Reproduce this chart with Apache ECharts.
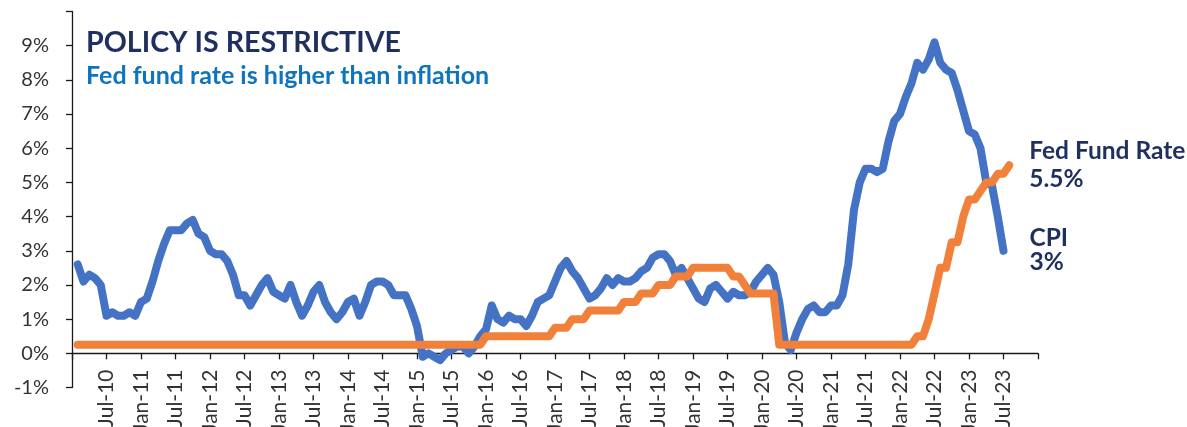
<!DOCTYPE html>
<html>
<head>
<meta charset="utf-8">
<script src="https://cdn.jsdelivr.net/npm/echarts@6/dist/echarts.min.js"></script>
<style>
  html, body { margin: 0; padding: 0; background: #ffffff; }
  #chart { width: 1187px; height: 427px; }
</style>
</head>
<body>
<div id="chart"></div>
<script>
// ---- Data (monthly, Jan-2010 onward) ----
const monthNames = ['Jan','Feb','Mar','Apr','May','Jun','Jul','Aug','Sep','Oct','Nov','Dec'];
const years = [10,11,12,13,14,15,16,17,18,19,20,21,22,23];

// CPI, year-over-year % (Jan-10 .. Jun-23)
const cpi = [
  2.6, 2.1, 2.3, 2.2, 2.0, 1.1, 1.2, 1.1, 1.1, 1.2, 1.1, 1.5,
  1.6, 2.1, 2.7, 3.2, 3.6, 3.6, 3.6, 3.8, 3.9, 3.5, 3.4, 3.0,
  2.9, 2.9, 2.7, 2.3, 1.7, 1.7, 1.4, 1.7, 2.0, 2.2, 1.8, 1.7,
  1.6, 2.0, 1.5, 1.1, 1.4, 1.8, 2.0, 1.5, 1.2, 1.0, 1.2, 1.5,
  1.6, 1.1, 1.5, 2.0, 2.1, 2.1, 2.0, 1.7, 1.7, 1.7, 1.3, 0.8,
  -0.1, 0.0, -0.1, -0.2, 0.0, 0.1, 0.2, 0.2, 0.0, 0.2, 0.5, 0.7,
  1.4, 1.0, 0.9, 1.1, 1.0, 1.0, 0.8, 1.1, 1.5, 1.6, 1.7, 2.1,
  2.5, 2.7, 2.4, 2.2, 1.9, 1.6, 1.7, 1.9, 2.2, 2.0, 2.2, 2.1,
  2.1, 2.2, 2.4, 2.5, 2.8, 2.9, 2.9, 2.7, 2.3, 2.5, 2.2, 1.9,
  1.6, 1.5, 1.9, 2.0, 1.8, 1.6, 1.8, 1.7, 1.7, 1.8, 2.1, 2.3,
  2.5, 2.3, 1.5, 0.3, 0.1, 0.6, 1.0, 1.3, 1.4, 1.2, 1.2, 1.4,
  1.4, 1.7, 2.6, 4.2, 5.0, 5.4, 5.4, 5.3, 5.4, 6.2, 6.8, 7.0,
  7.5, 7.9, 8.5, 8.3, 8.6, 9.1, 8.5, 8.3, 8.2, 7.7, 7.1, 6.5,
  6.4, 6.0, 5.0, 4.9, 4.0, 3.0
];

// Fed funds target (upper bound) at month end, % (Jan-10 .. Jul-23)
const fedFunds = [
  0.25, 0.25, 0.25, 0.25, 0.25, 0.25, 0.25, 0.25, 0.25, 0.25, 0.25, 0.25,
  0.25, 0.25, 0.25, 0.25, 0.25, 0.25, 0.25, 0.25, 0.25, 0.25, 0.25, 0.25,
  0.25, 0.25, 0.25, 0.25, 0.25, 0.25, 0.25, 0.25, 0.25, 0.25, 0.25, 0.25,
  0.25, 0.25, 0.25, 0.25, 0.25, 0.25, 0.25, 0.25, 0.25, 0.25, 0.25, 0.25,
  0.25, 0.25, 0.25, 0.25, 0.25, 0.25, 0.25, 0.25, 0.25, 0.25, 0.25, 0.25,
  0.25, 0.25, 0.25, 0.25, 0.25, 0.25, 0.25, 0.25, 0.25, 0.25, 0.25, 0.5,
  0.5, 0.5, 0.5, 0.5, 0.5, 0.5, 0.5, 0.5, 0.5, 0.5, 0.5, 0.75,
  0.75, 0.75, 1.0, 1.0, 1.0, 1.25, 1.25, 1.25, 1.25, 1.25, 1.25, 1.5,
  1.5, 1.5, 1.75, 1.75, 1.75, 2.0, 2.0, 2.0, 2.25, 2.25, 2.25, 2.5,
  2.5, 2.5, 2.5, 2.5, 2.5, 2.5, 2.25, 2.25, 2.0, 1.75, 1.75, 1.75,
  1.75, 1.75, 0.25, 0.25, 0.25, 0.25, 0.25, 0.25, 0.25, 0.25, 0.25, 0.25,
  0.25, 0.25, 0.25, 0.25, 0.25, 0.25, 0.25, 0.25, 0.25, 0.25, 0.25, 0.25,
  0.25, 0.25, 0.5, 0.5, 1.0, 1.75, 2.5, 2.5, 3.25, 3.25, 4.0, 4.5,
  4.5, 4.75, 5.0, 5.0, 5.25, 5.25, 5.5
];

const seriesNames = ['CPI', 'Fed Fund Rate'];
const yTicks = [-1, 0, 1, 2, 3, 4, 5, 6, 7, 8, 9, 10];
const titleText = 'POLICY IS RESTRICTIVE';
const subtitleText = 'Fed fund rate is higher than inflation';

// Category boundaries: first day of each month, Jan-10 .. Jan-24.
// A month's value is plotted at the boundary that ends that month.
const categories = [];
years.forEach(y => monthNames.forEach(m => categories.push(m + '-' + y)));
categories.push('Jan-24');

const cpiData = [null].concat(cpi);
const fedData = [null].concat(fedFunds);

const FONT = 'Lato';
const NAVY = '#1F2F5E';

const chart = echarts.init(document.getElementById('chart'), null, { renderer: 'canvas' });

const endLabel = (dist, offY, lh) => ({
  show: true,
  distance: dist,
  offset: [0, offY],
  align: 'left',
  verticalAlign: 'middle',
  formatter: p => '{n|' + p.seriesName + '}\n{n|' + p.value + '%}',
  rich: {
    n: { fontFamily: FONT, fontWeight: 'bold', fontSize: 24.5, lineHeight: lh, color: NAVY }
  }
});

chart.setOption({
  animation: false,
  backgroundColor: '#ffffff',
  title: {
    text: titleText,
    subtext: subtitleText,
    left: 86,
    top: 29,
    padding: 0,
    itemGap: 7,
    textStyle: { fontFamily: FONT, fontWeight: 'bold', fontSize: 28.6, lineHeight: 28, color: NAVY },
    subtextStyle: { fontFamily: FONT, fontWeight: 'bold', fontSize: 25, lineHeight: 22, color: '#0E74C0' }
  },
  grid: { left: 72, right: 149, top: 11.5, bottom: 39.5, containLabel: false, outerBoundsMode: 'none' },
  xAxis: {
    type: 'category',
    data: categories,
    boundaryGap: false,
    axisLine: { onZero: true, lineStyle: { color: '#1a1a1a', width: 1.3 } },
    axisTick: { show: true, interval: 5, length: 6, lineStyle: { color: '#1a1a1a', width: 1.3 } },
    axisLabel: {
      interval: (i) => i % 6 === 0 && i > 0 && i < categories.length - 1,
      rotate: 90,
      margin: -18,
      fontFamily: FONT,
      fontSize: 21,
      color: '#333333'
    },
    splitLine: { show: false }
  },
  yAxis: {
    type: 'value',
    min: yTicks[0],
    max: yTicks[yTicks.length - 1],
    interval: 1,
    axisLine: { show: true, lineStyle: { color: '#1a1a1a', width: 1.3 } },
    axisTick: { show: true, length: 6, lineStyle: { color: '#1a1a1a', width: 1.3 } },
    axisLabel: {
      margin: 23,
      fontFamily: FONT,
      fontSize: 20,
      color: '#333333',
      formatter: v => (v === yTicks[yTicks.length - 1] ? '' : v + '%')
    },
    splitLine: { show: false }
  },
  series: [
    {
      name: seriesNames[0],
      type: 'line',
      data: cpiData,
      symbol: 'none',
      color: '#4472C4',
      lineStyle: { width: 8, color: '#4472C4', cap: 'round', join: 'round' },
      endLabel: endLabel(26, -1, 24),
      z: 2
    },
    {
      name: seriesNames[1],
      type: 'line',
      data: fedData,
      symbol: 'none',
      color: '#F0803A',
      lineStyle: { width: 8, color: '#F0803A', cap: 'round', join: 'round' },
      endLabel: endLabel(20, 0, 28.5),
      z: 3
    }
  ]
});
</script>
</body>
</html>
